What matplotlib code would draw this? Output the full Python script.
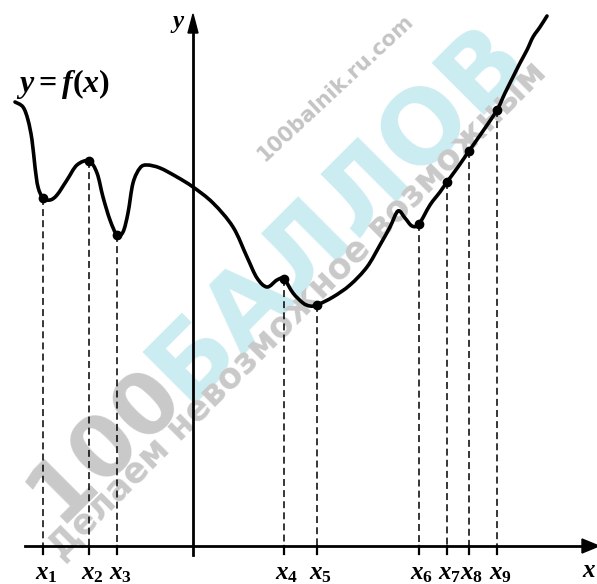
import matplotlib
matplotlib.use("Agg")
import matplotlib.pyplot as plt
import numpy as np
from matplotlib.patches import Polygon, PathPatch
from matplotlib.path import Path

plt.rcParams['mathtext.fontset'] = 'custom'
plt.rcParams['mathtext.it'] = 'Liberation Serif:italic:bold'
plt.rcParams['mathtext.rm'] = 'Liberation Serif:bold'
plt.rcParams['lines.scale_dashes'] = False

# Curve y = f(x) (origin at the axes crossing)
curve_x = [-178, -170, -165, -161, -158, -155, -150, -143, -136, -126, -116, -104,
           -96, -90, -83, -76, -70, -65, -60, -53, -46, -33, -16, 0, 20, 40, 54,
           64, 74, 84, 91, 100, 110, 117, 124, 140, 157, 174, 187, 197, 205, 212,
           219, 226, 237, 247, 254, 265, 276, 290, 304, 312, 320, 327, 334, 340,
           347, 354]
curve_y = [444, 439, 426, 406, 379, 359, 348, 346, 351, 366, 381, 385,
           373, 349, 326, 311, 314, 333, 363, 378, 381, 378, 369, 359, 343, 319, 289,
           268, 259, 266, 267, 253, 243, 240, 241, 249, 261, 279, 301, 319, 335, 328,
           320, 322, 341, 354, 364, 379, 395, 415, 436, 453, 469, 483, 496, 509,
           519, 530]

# Marked points x1..x9
pt_labels = ['$x_1$', '$x_2$', '$x_3$', '$x_4$', '$x_5$', '$x_6$', '$x_7$', '$x_8$', '$x_9$']
pt_x = [-150, -104, -76, 91, 124, 226, 254, 276, 304]
pt_y = [348, 385, 311, 267, 241, 322, 364, 395, 436]

fig = plt.figure(figsize=(5.97, 5.84), dpi=100)
ax = fig.add_axes([0, 0, 1, 1])
ax.set_xlim(-193, 404)
ax.set_ylim(-38, 546)
ax.axis('off')

# watermark
wm = dict(ha='center', va='center', zorder=0, family='DejaVu Sans',
          fontweight='bold', rotation_mode='anchor')
ax.text(145, 334, 'БАЛЛОВ', fontsize=73, color='#cbecf1', rotation=45, **wm)
ax.text(-88, 102, '100', fontsize=62, color='#c9c9c9', rotation=45, **wm)
ax.text(143, 458, '100balnik.ru.com', fontsize=15, color='#c4c4c4', rotation=43, **wm)
ax.text(105, 236, 'Делаем невозможное возможным', fontsize=25,
        color='#c9c9c9', rotation=45, **wm)

# axes lines
ax.plot([-168, 390], [0, 0], color='black', lw=2.0, zorder=2)
ax.plot([0, 0], [-9, 515], color='black', lw=2.0, zorder=2)
ax.add_patch(Polygon([[389, -7], [389, 7], [406, 0]], closed=True, color='black', zorder=2))
ax.add_patch(Polygon([[-5, 513], [5, 513], [0, 532]], closed=True, color='black', zorder=2))
ax.text(-15, 523, '$y$', fontsize=18, ha='center', va='center', zorder=3)
ax.text(396, -24, '$x$', fontsize=18, ha='center', va='center', zorder=3)

# dashed projections, ticks and labels
for lbl, x, y in zip(pt_labels, pt_x, pt_y):
    ax.plot([x, x], [y, 0], color='black', lw=1.1, dashes=(5, 3), zorder=2)
    ax.plot([x, x], [0, -8], color='black', lw=1.6, zorder=2)
    ax.text(x + 3, -27, lbl, fontsize=18, ha='center', va='center', zorder=3)

# curve drawn as a smooth Bezier path through the read points
P = np.column_stack([curve_x, curve_y]).astype(float)
verts = [P[0]]
codes = [Path.MOVETO]
n = len(P)
for i in range(n - 1):
    p0 = P[max(i - 1, 0)]
    p1 = P[i]
    p2 = P[i + 1]
    p3 = P[min(i + 2, n - 1)]
    verts += [p1 + (p2 - p0) / 6.0, p2 - (p3 - p1) / 6.0, p2]
    codes += [Path.CURVE4] * 3
ax.add_patch(PathPatch(Path(verts, codes), fill=False, edgecolor='black', lw=2.6,
                       capstyle='round', joinstyle='round', zorder=4))
ax.plot(pt_x, pt_y, 'o', color='black', ms=6, zorder=5)

ax.text(-130, 462, '$y=f(x)$', fontsize=23, ha='center', va='center', zorder=3)

fig.savefig('out.png', dpi=100)
